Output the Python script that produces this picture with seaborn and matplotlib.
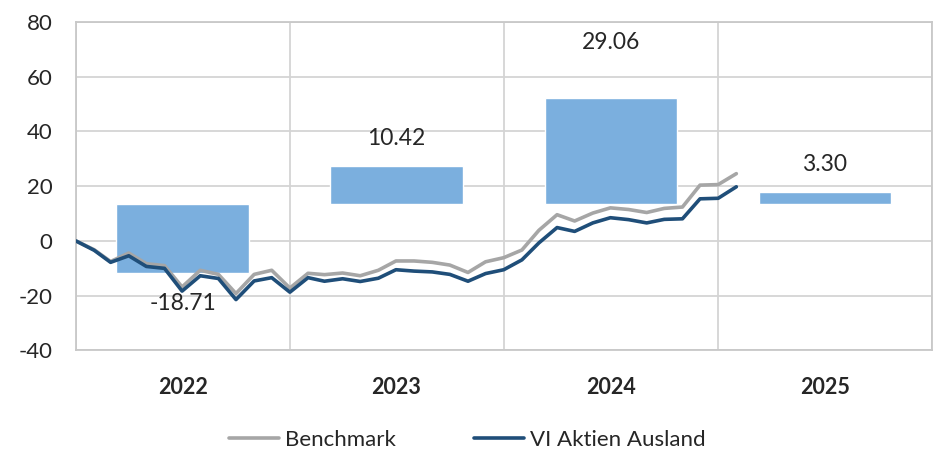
import numpy as np
import pandas as pd
import matplotlib
matplotlib.use("Agg")
import matplotlib.pyplot as plt
import seaborn as sns

# monthly cumulative performance (%), end of Dec 2021 .. end of Jan 2025
dates = pd.date_range("2021-12-31", periods=38, freq="ME")
benchmark = [0.0, -3.2, -7.5, -4.4, -8.3, -9.0, -16.8, -10.7, -12.2, -19.2, -12.2, -10.7,
             -17.2, -11.8, -12.3, -11.7, -12.7, -10.7, -7.3, -7.3, -7.8, -8.8, -11.5, -7.6,
             -6.1, -3.3, 3.9, 9.6, 7.3, 10.2, 12.1, 11.5, 10.4, 11.9, 12.4, 20.4, 20.6, 24.6]
fund = [0.0, -3.4, -7.8, -5.4, -9.3, -10.0, -18.3, -12.7, -13.7, -21.4, -14.6, -13.4,
        -18.7, -13.4, -14.7, -13.8, -14.8, -13.6, -10.5, -11.0, -11.3, -12.2, -14.7, -11.9,
        -10.5, -6.9, -0.7, 4.9, 3.5, 6.6, 8.5, 7.8, 6.6, 7.9, 8.1, 15.4, 15.6, 19.8]

# yearly returns of the fund (%)
years = ["2022", "2023", "2024", "2025"]
yearly = [-18.71, 10.42, 29.06, 3.30]
yticks = [-40, -20, 0, 20, 40, 60, 80]

df = pd.DataFrame({"date": dates, "Benchmark": benchmark, "VI Aktien Ausland": fund})

sns.set_style("white")
plt.rcParams["font.family"] = ["Lato", "DejaVu Sans"]
plt.rcParams["axes.unicode_minus"] = False

fig = plt.figure(figsize=(9.34, 4.54), dpi=100)
ax = fig.add_axes([0.0814, 0.228, 0.9165, 0.7236])
ax_bar = ax.twinx()
ax_line = ax.twinx()

x0, x1 = pd.Timestamp("2021-12-31"), pd.Timestamp("2025-12-31")
bounds = [pd.Timestamp(f"{y}-12-31") for y in range(2021, 2026)]
mids = [pd.Timestamp(f"{y}-07-01") for y in years]

# bars on secondary scale
ax_bar.set_ylim(-40, 50)
ax_bar.bar(mids, yearly, width=226, color="#7BAFDE")
offsets = [-22, 20, 40, 20]
for m, v, off in zip(mids, yearly, offsets):
    ax_bar.annotate(f"{v:.2f}", (m, v), xytext=(0, off), textcoords="offset points",
                    ha="center", va="center", fontsize=16.5)

# lines
sns.lineplot(data=df, x="date", y="Benchmark", ax=ax_line, color="#A6A6A6",
             linewidth=2.6, label="Benchmark")
sns.lineplot(data=df, x="date", y="VI Aktien Ausland", ax=ax_line, color="#1F4E79",
             linewidth=2.6, label="VI Aktien Ausland")
ax_line.set_ylim(-40, 80)

for a in (ax_bar, ax_line):
    a.patch.set_visible(False)
    a.set_yticks([])
    a.set_ylabel("")
    for s in a.spines.values():
        s.set_visible(False)

# base axis: grid, ticks, frame (set after plotting, x axis is shared)
grid_c = "#D4D4D4"
ax.set_xlim(x0, x1)
ax.set_ylim(-40, 80)
ax.set_yticks(yticks)
ax.set_yticklabels([str(t) for t in yticks])
ax.set_xticks(bounds)
ax.set_xticklabels([""] * len(bounds))
ax.set_xticks(mids, minor=True)
ax.set_xticklabels(years, minor=True, fontweight="bold", fontsize=15.5)
ax.grid(True, which="major", color=grid_c, linewidth=1.3)
ax.grid(False, which="minor")
ax.tick_params(axis="both", which="both", length=0)
ax.tick_params(axis="y", labelsize=16, pad=17)
ax.tick_params(axis="x", which="minor", pad=19)
ax.set_xlabel("")
ax.set_ylabel("")
for s in ax.spines.values():
    s.set_color("#C8C8C8")
    s.set_linewidth(1.3)

handles, labels = ax_line.get_legend_handles_labels()
ax_line.get_legend().remove()
fig.legend(handles, labels, loc="center", bbox_to_anchor=(0.5, 0.031), ncol=2,
           frameon=False, fontsize=16, handlelength=2.25, handletextpad=0.27,
           columnspacing=3.5)

fig.savefig("out.png", dpi=100)
